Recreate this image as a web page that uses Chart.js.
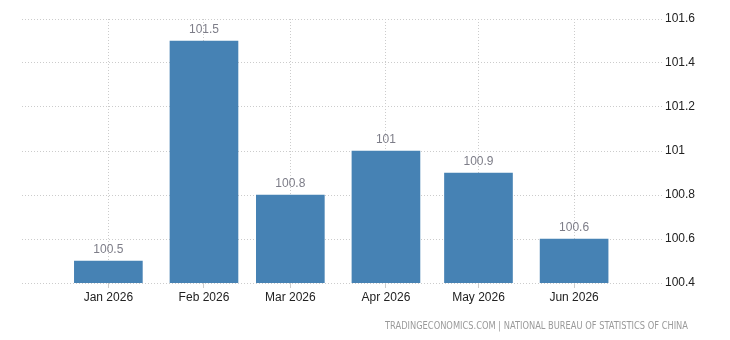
<!DOCTYPE html>
<html>
<head>
<meta charset="utf-8">
<script src="https://cdn.jsdelivr.net/npm/chart.js@4/dist/chart.umd.min.js"></script>
<style>
  html, body { margin: 0; padding: 0; background: #fff; }
  #wrap { width: 730px; height: 340px; position: relative; }
</style>
</head>
<body>
<div id="wrap"><canvas id="myChart" width="730" height="340"></canvas></div>
<script>
const categories = ["Jan 2026", "Feb 2026", "Mar 2026", "Apr 2026", "May 2026", "Jun 2026"];
const values = [100.5, 101.5, 100.8, 101, 100.9, 100.6];
const yTicks = [100.4, 100.6, 100.8, 101, 101.2, 101.4, 101.6];
const sourceText = "TRADINGECONOMICS.COM | NATIONAL BUREAU OF STATISTICS OF CHINA";

// days since Jan 1 so the months sit on a time-like axis
const jan1 = new Date(2026, 0, 1);
const dayOffsets = categories.map(function (c, i) {
  return Math.round((new Date(2026, i, 1) - jan1) / 864e5);
});

const points = values.map(function (v, i) {
  return { x: dayOffsets[i], y: v };
});

const valueLabels = {
  id: "valueLabels",
  afterDatasetsDraw(chart) {
    const ctx = chart.ctx;
    const meta = chart.getDatasetMeta(0);
    ctx.save();
    ctx.font = "12px 'Liberation Sans', Arial, sans-serif";
    ctx.fillStyle = "#7d7d88";
    ctx.textAlign = "center";
    ctx.textBaseline = "bottom";
    meta.data.forEach(function (bar, i) {
      ctx.fillText(String(values[i]), bar.x, bar.y - 5);
    });
    ctx.restore();
  },
};

const sourceNote = {
  id: "sourceNote",
  afterDraw(chart) {
    const ctx = chart.ctx;
    ctx.save();
    ctx.font = "10px 'DejaVu Sans Condensed', 'Liberation Sans', sans-serif";
    ctx.fillStyle = "#9a9a9a";
    ctx.textBaseline = "alphabetic";
    const w = ctx.measureText(sourceText).width;
    const target = 303;
    ctx.translate(385, 329);
    ctx.scale(target / w, 1);
    ctx.fillText(sourceText, 0, 0);
    ctx.restore();
  },
};

const ctx = document.getElementById("myChart").getContext("2d");

const myChart = new Chart(ctx, {
  type: "bar",
  data: {
    datasets: [
      {
        data: points,
        backgroundColor: "#4682b4",
        barThickness: 68,
        borderWidth: 0,
      },
    ],
  },
  options: {
    responsive: false,
    animation: false,
    events: [],
    layout: { padding: { left: 22, top: 19, right: 0, bottom: 0 } },
    plugins: {
      legend: { display: false },
      tooltip: { enabled: false },
    },
    scales: {
      x: {
        type: "linear",
        offset: false,
        min: -28,
        max: 179.5,
        afterBuildTicks: function (axis) {
          axis.ticks = dayOffsets.map(function (d) {
            return { value: d };
          });
        },
        afterFit: function (axis) {
          axis.height = 57;
        },
        border: { display: false, dash: [1, 2] },
        grid: {
          offset: false,
          color: "#cccccc",
          tickColor: "#cccccc",
          tickLength: 5,
        },
        ticks: {
          padding: 2,
          maxRotation: 0,
          autoSkip: false,
          color: "#222222",
          font: { size: 12, family: "'Liberation Sans', Arial, sans-serif" },
          callback: function (v) {
            const i = dayOffsets.indexOf(v);
            return i >= 0 ? categories[i] : "";
          },
        },
      },
      y: {
        position: "right",
        min: yTicks[0],
        max: yTicks[yTicks.length - 1],
        afterBuildTicks: function (axis) {
          axis.ticks = yTicks.map(function (t) {
            return { value: t };
          });
        },
        afterFit: function (axis) {
          axis.width = 68;
        },
        border: { display: false, dash: [1, 2] },
        grid: {
          color: "#cccccc",
          drawTicks: false,
        },
        ticks: {
          padding: 3,
          color: "#222222",
          font: { size: 12, family: "'Liberation Sans', Arial, sans-serif" },
          callback: function (v) {
            return String(Math.round(v * 10) / 10);
          },
        },
      },
    },
  },
  plugins: [valueLabels, sourceNote],
});
</script>
</body>
</html>
